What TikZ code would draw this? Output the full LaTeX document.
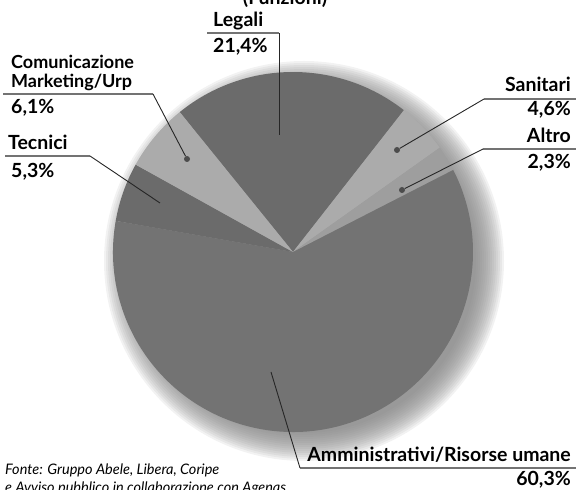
\documentclass[tikz,border=0pt]{standalone}
\usepackage{fontspec}
\setmainfont{Lato}
\usetikzlibrary{positioning}

\definecolor{halogray}{gray}{0.5}
\definecolor{darkslice}{gray}{0.42}
\definecolor{ammslice}{gray}{0.45}
\definecolor{lightslice}{gray}{0.67}
\definecolor{altroslice}{gray}{0.62}
\definecolor{rulegray}{gray}{0.45}

\begin{document}
\begin{tikzpicture}[x=1pt, y=1pt,
    lbl/.style={font=\bfseries\fontsize{19.5}{19}\selectfont, inner sep=0pt},
    lblsmall/.style={font=\bfseries\fontsize{18}{19}\selectfont, inner sep=0pt},
    src/.style={font=\itshape\fontsize{14.5}{18}\selectfont, inner sep=0pt},
    lead/.style={black!85, line width=0.9pt},
    rule/.style={rulegray, line width=1.8pt},
    dot/.style={circle, fill=black!70, inner sep=0pt, minimum size=6pt}]

    \useasboundingbox (0,0) rectangle (576,490);

    % Soft halo behind the pie
    \foreach \r in {172,174,...,200}
        \fill[halogray, opacity=0.1] (304,229) circle (\r);

    % Pie slices
    \coordinate (c) at (293,238);
    \fill[darkslice] (c) -- ++(51.96:180) arc (51.96:129:180) -- cycle;
    \fill[lightslice] (c) -- ++(35.4:180) arc (35.4:51.96:180) -- cycle;
    \fill[altroslice] (c) -- ++(27.12:180) arc (27.12:35.4:180) -- cycle;
    \fill[ammslice] (c) -- ++(-189.96:180) arc (-189.96:27.12:180) -- cycle;
    \fill[darkslice] (c) -- ++(150.96:180) arc (150.96:170.04:180) -- cycle;
    \fill[lightslice] (c) -- ++(129:180) arc (129:150.96:180) -- cycle;

    % Title (cut at the top)
    \node[lbl, anchor=base] (title) at (285,485) {(Funzioni)};

    % Legali
    \node[lbl, anchor=base west] (legali) at (213,463) {Legali};
    \node[lbl, anchor=base west] (legpct) at (213,437) {21,4\%};
    \coordinate (legstart) at (207,457);
    \coordinate (legcorner) at (279,457);
    \coordinate (legend) at (279,355);
    \draw[rule] (legstart) -- (legcorner);
    \draw[lead] (legcorner) -- (legend);

    % Comunicazione
    \node[lblsmall, anchor=base west] (com) at (11,421) {Comunicazione};
    \node[lblsmall, anchor=base west] (mkt) at (11,402) {Marketing/Urp};
    \node[lbl, anchor=base west] (compct) at (11,376) {6,1\%};
    \coordinate (comstart) at (3,396);
    \coordinate (comcorner) at (153,396);
    \node[dot] (comdot) at (187,331) {};
    \draw[rule] (comstart) -- (comcorner);
    \draw[lead] (comcorner) -- (comdot);

    % Tecnici
    \node[lbl, anchor=base west] (tec) at (8,340) {Tecnici};
    \node[lbl, anchor=base west] (tecpct) at (11,312) {5,3\%};
    \coordinate (tecstart) at (5,334);
    \coordinate (teccorner) at (90,334);
    \coordinate (tecend) at (160,287);
    \draw[rule] (tecstart) -- (teccorner);
    \draw[lead] (teccorner) -- (tecend);

    % Sanitari
    \node[lbl, anchor=base east] (san) at (571,398) {Sanitari};
    \node[lbl, anchor=base east] (sanpct) at (571,374) {4,6\%};
    \coordinate (sanend) at (576,391);
    \coordinate (sancorner) at (484,391);
    \node[dot] (sandot) at (397,340) {};
    \draw[rule] (sanend) -- (sancorner);
    \draw[lead] (sancorner) -- (sandot);

    % Altro
    \node[lbl, anchor=base east] (alt) at (571,347) {Altro};
    \node[lbl, anchor=base east] (altpct) at (571,321) {2,3\%};
    \coordinate (altend) at (576,341);
    \coordinate (altcorner) at (483,341);
    \node[dot] (altdot) at (402,300) {};
    \draw[rule] (altend) -- (altcorner);
    \draw[lead] (altcorner) -- (altdot);

    % Amministrativi
    \node[lbl, anchor=base east] (amm) at (571,28) {Amministrativi/Risorse umane};
    \node[lbl, anchor=base east] (ammpct) at (571,4) {60,3\%};
    \coordinate (ammend) at (576,22);
    \coordinate (ammcorner) at (300,22);
    \coordinate (ammtip) at (271,118);
    \draw[rule] (ammend) -- (ammcorner);
    \draw[lead] (ammcorner) -- (ammtip);

    % Source
    \node[src, anchor=base west] (fonte) at (5,15) {Fonte: Gruppo Abele, Libera, Coripe};
    \node[src, anchor=base west] (avviso) at (5,-3) {e Avviso pubblico in collaborazione con Agenas};
\end{tikzpicture}
\end{document}
